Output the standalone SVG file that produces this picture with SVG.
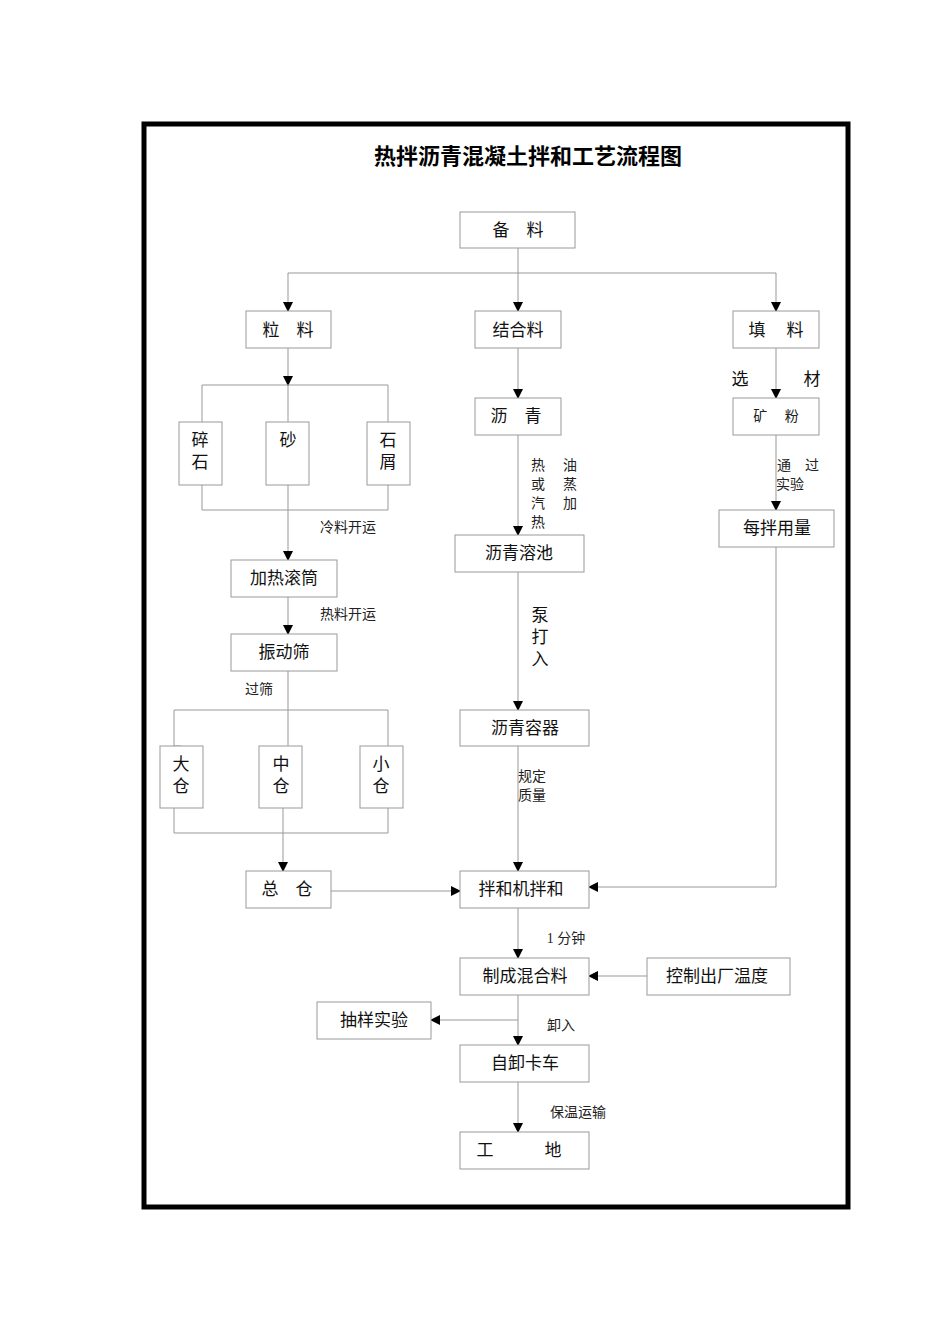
<svg xmlns="http://www.w3.org/2000/svg" width="950" height="1344" viewBox="0 0 950 1344">
<style>
.b{fill:#fff;stroke:#999;stroke-width:1}
.t{font-family:"Liberation Serif","Noto Sans CJK SC",serif;font-size:17px;fill:#111;text-anchor:middle}
.s{font-family:"Liberation Serif","Noto Sans CJK SC",serif;font-size:14px;fill:#222;text-anchor:middle}
.c line,.c polyline{stroke:#999;stroke-width:1;fill:none}
</style>
<defs><marker id="a" markerWidth="10" markerHeight="10" refX="9" refY="5" orient="auto" markerUnits="userSpaceOnUse"><path d="M0,0L10,5L0,10z" fill="#000"/></marker></defs>
<rect x="0" y="0" width="950" height="1344" fill="#fff"/>
<rect x="144" y="124" width="704" height="1083" fill="none" stroke="#000" stroke-width="5"/>
<text x="528" y="164" font-family="Liberation Serif,'Noto Sans CJK SC',serif" font-size="22" font-weight="bold" text-anchor="middle">热拌沥青混凝土拌和工艺流程图</text>
<g class="c">
<polyline points="518,248 518,273"/>
<line x1="288" y1="273" x2="776" y2="273"/>
<line x1="288" y1="273" x2="288" y2="311" marker-end="url(#a)"/>
<line x1="518" y1="273" x2="518" y2="311" marker-end="url(#a)"/>
<line x1="776" y1="273" x2="776" y2="311" marker-end="url(#a)"/>
<line x1="288" y1="348" x2="288" y2="385" marker-end="url(#a)"/>
<polyline points="202,422 202,385 388,385 388,422"/>
<line x1="288" y1="385" x2="288" y2="422"/>
<polyline points="202,485 202,510 388,510 388,485"/>
<line x1="288" y1="485" x2="288" y2="560" marker-end="url(#a)"/>
<line x1="288" y1="597" x2="288" y2="634" marker-end="url(#a)"/>
<line x1="288" y1="671" x2="288" y2="710"/>
<polyline points="181,746 174,746 174,710 388,710 388,746"/>
<line x1="288" y1="710" x2="288" y2="746"/>
<polyline points="174,808 174,833 388,833 388,808"/>
<line x1="283" y1="808" x2="283" y2="871" marker-end="url(#a)"/>
<line x1="331" y1="891" x2="460" y2="891" marker-end="url(#a)"/>
<line x1="518" y1="348" x2="518" y2="398" marker-end="url(#a)"/>
<line x1="518" y1="435" x2="518" y2="535" marker-end="url(#a)"/>
<line x1="518" y1="572" x2="518" y2="710" marker-end="url(#a)"/>
<line x1="518" y1="746" x2="518" y2="871" marker-end="url(#a)"/>
<line x1="776" y1="348" x2="776" y2="398" marker-end="url(#a)"/>
<line x1="776" y1="435" x2="776" y2="510" marker-end="url(#a)"/>
<polyline points="776,547 776,887 589,887" marker-end="url(#a)"/>
<line x1="518" y1="908" x2="518" y2="958" marker-end="url(#a)"/>
<line x1="647" y1="976" x2="589" y2="976" marker-end="url(#a)"/>
<line x1="518" y1="995" x2="518" y2="1045" marker-end="url(#a)"/>
<line x1="518" y1="1020" x2="431" y2="1020" marker-end="url(#a)"/>
<line x1="518" y1="1082" x2="518" y2="1132" marker-end="url(#a)"/>
</g>
<g id="n1"><rect class="b" x="460" y="212" width="115" height="36"/><text class="t" x="518" y="236">备　料</text></g>
<g id="n2"><rect class="b" x="246" y="311" width="85" height="37" stroke="#555"/><text class="t" x="288" y="336">粒　料</text></g>
<g id="n3"><rect class="b" x="475" y="311" width="86" height="37"/><text class="t" x="518" y="336">结合料</text></g>
<g id="n4"><rect class="b" x="733" y="311" width="86" height="37"/><text class="t" x="776" y="336">填　 料</text></g>
<g id="n5"><rect class="b" x="179" y="422" width="43" height="63"/><text class="t" x="200" y="446">碎</text><text class="t" x="200" y="468">石</text></g>
<g id="n6"><rect class="b" x="266" y="422" width="43" height="63"/><text class="t" x="288" y="446">砂</text></g>
<g id="n7"><rect class="b" x="367" y="422" width="43" height="63"/><text class="t" x="388" y="446">石</text><text class="t" x="388" y="468">屑</text></g>
<g id="n8"><rect class="b" x="231" y="560" width="106" height="37"/><text class="t" x="284" y="584">加热滚筒</text></g>
<g id="n9"><rect class="b" x="231" y="634" width="106" height="37"/><text class="t" x="284" y="658">振动筛</text></g>
<g id="n10"><rect class="b" x="160" y="746" width="43" height="62"/><text class="t" x="181" y="770">大</text><text class="t" x="181" y="792">仓</text></g>
<g id="n11"><rect class="b" x="259" y="746" width="43" height="62"/><text class="t" x="281" y="770">中</text><text class="t" x="281" y="792">仓</text></g>
<g id="n12"><rect class="b" x="360" y="746" width="43" height="62"/><text class="t" x="381" y="770">小</text><text class="t" x="381" y="792">仓</text></g>
<g id="n13"><rect class="b" x="246" y="871" width="85" height="37"/><text class="t" x="287" y="895">总　仓</text></g>
<g id="n14"><rect class="b" x="475" y="398" width="86" height="37"/><text class="t" x="516" y="422">沥　青</text></g>
<g id="n15"><rect class="b" x="455" y="535" width="129" height="37"/><text class="t" x="519" y="559">沥青溶池</text></g>
<g id="n16"><rect class="b" x="460" y="710" width="129" height="36"/><text class="t" x="525" y="734">沥青容器</text></g>
<g id="n17"><rect class="b" x="460" y="871" width="129" height="37"/><text class="t" x="521" y="895">拌和机拌和</text></g>
<g id="n18"><rect class="b" x="733" y="398" width="86" height="37"/><text class="s" x="776" y="421">矿　 粉</text></g>
<g id="n19"><rect class="b" x="719" y="510" width="115" height="37"/><text class="t" x="777" y="534">每拌用量</text></g>
<g id="n20"><rect class="b" x="460" y="958" width="129" height="37"/><text class="t" x="525" y="982">制成混合料</text></g>
<g id="n21"><rect class="b" x="647" y="958" width="143" height="37"/><text class="t" x="717" y="982">控制出厂温度</text></g>
<g id="n22"><rect class="b" x="317" y="1002" width="114" height="37"/><text class="t" x="374" y="1026">抽样实验</text></g>
<g id="n23"><rect class="b" x="460" y="1045" width="129" height="37"/><text class="t" x="525" y="1069">自卸卡车</text></g>
<g id="n24"><rect class="b" x="460" y="1132" width="129" height="37"/><text class="t" x="519" y="1156">工　　　地</text></g>
<g id="labels">
<text class="s" x="348" y="532">冷料开运</text>
<text class="s" x="348" y="619">热料开运</text>
<text class="s" x="259" y="694">过筛</text>
<text class="s" x="538" y="470">热</text><text class="s" x="538" y="489">或</text><text class="s" x="538" y="508">汽</text><text class="s" x="538" y="527">热</text>
<text class="s" x="570" y="470">油</text><text class="s" x="570" y="489">蒸</text><text class="s" x="570" y="508">加</text>
<text class="t" x="540" y="621">泵</text><text class="t" x="540" y="643">打</text><text class="t" x="540" y="665">入</text>
<text class="s" x="532" y="781">规定</text><text class="s" x="532" y="800">质量</text>
<text class="t" x="740" y="385">选</text><text class="t" x="812" y="385">材</text>
<text class="s" x="798" y="470">通　过</text><text class="s" x="790" y="489">实验</text>
<text class="s" x="566" y="943">1 分钟</text>
<text class="s" x="561" y="1030">卸入</text>
<text class="s" x="578" y="1117">保温运输</text>
</g>
</svg>
